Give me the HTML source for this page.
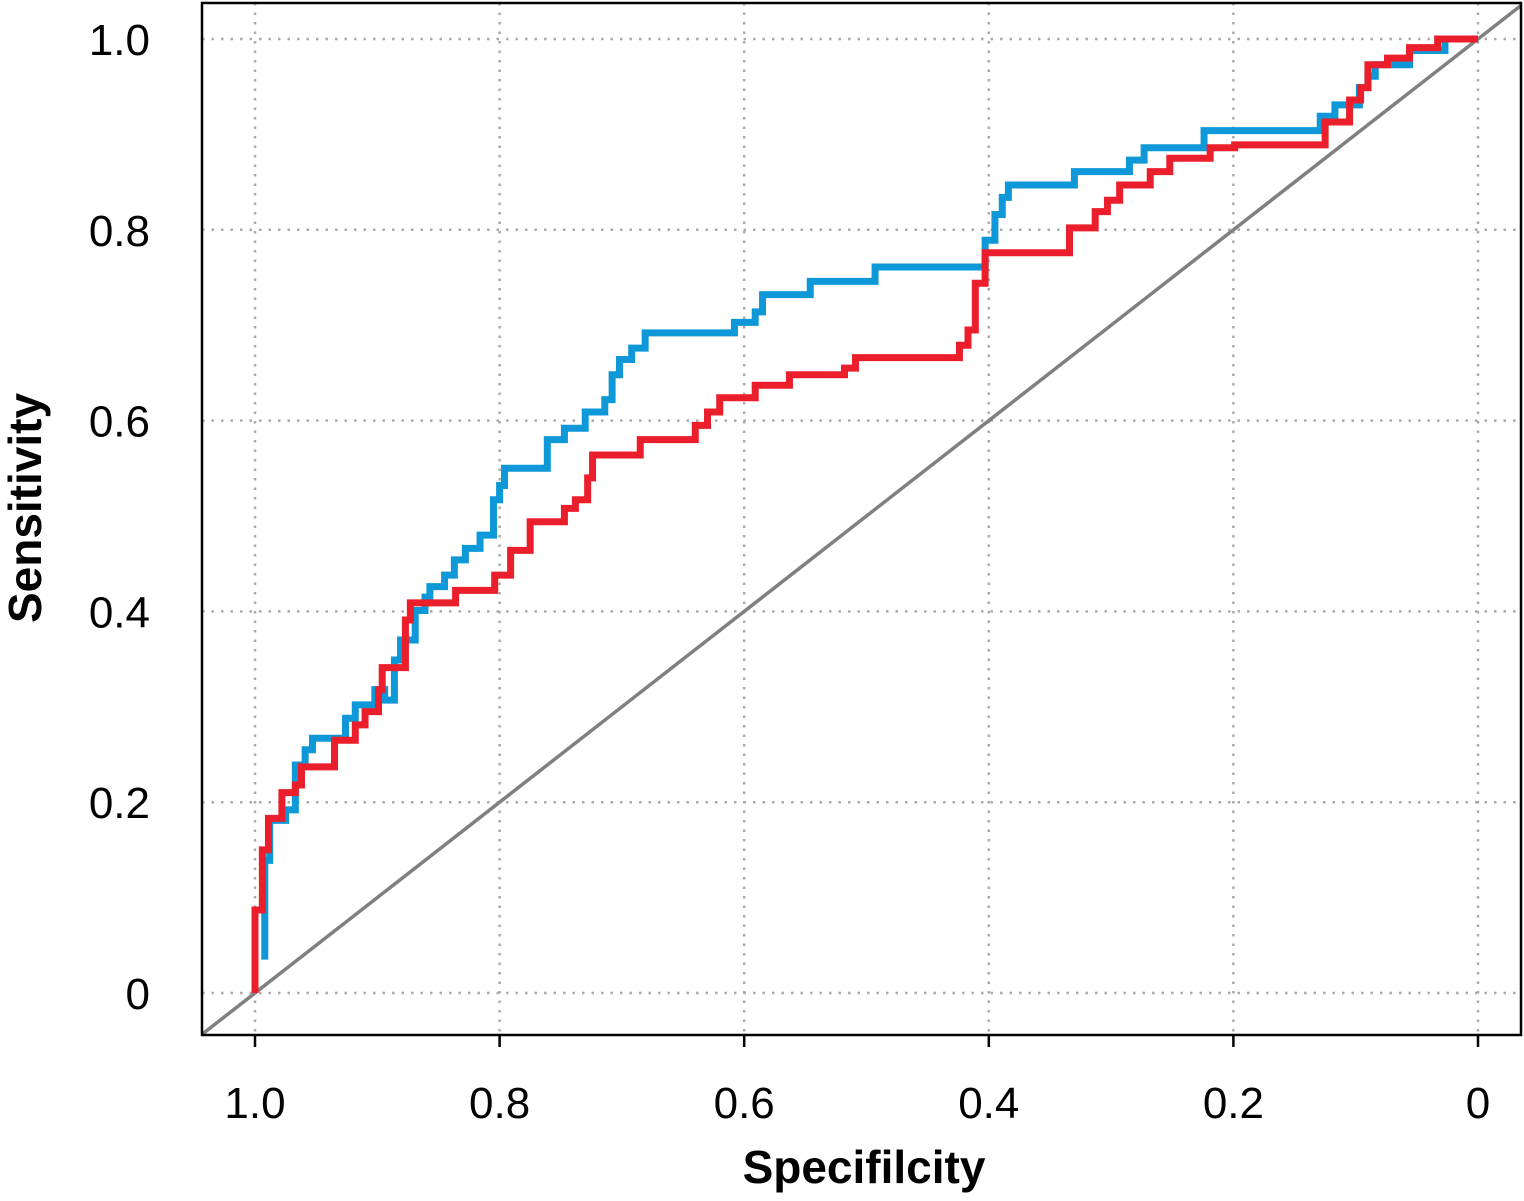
<!DOCTYPE html>
<html><head><meta charset="utf-8"><style>
html,body{margin:0;padding:0;background:#fff;}
svg text{font-family:"Liberation Sans",sans-serif;}
</style></head><body>
<svg id="chart" width="1524" height="1196" viewBox="0 0 1524 1196" xmlns="http://www.w3.org/2000/svg">
<g id="grid"></g>
<g id="diag"></g>
<g id="series"></g>
<rect x="202" y="3" width="1319" height="1032" fill="none" stroke="#000" stroke-width="2.5"/>
<g id="axes"></g>
<text x="864" y="1183" text-anchor="middle" font-size="46" font-weight="bold">Specifilcity</text>
<text transform="translate(41,508) rotate(-90)" text-anchor="middle" font-size="46" font-weight="bold">Sensitivity</text>
</svg>
<script>
const xTicks=[1.0,0.8,0.6,0.4,0.2,0];
const xTickLabels=["1.0","0.8","0.6","0.4","0.2","0"];
const yTicks=[0,0.2,0.4,0.6,0.8,1.0];
const yTickLabels=["0","0.2","0.4","0.6","0.8","1.0"];
const blueStart=[0.992,0.035];
const blueSpec=[.992,.988,.975,.967,.959,.953,.926,.918,.902,.894,.886,.881,.869,.861,.857,.845,.837,.828,.816,.805,.800,.796,.761,.747,.730,.714,.708,.702,.692,.681,.608,.591,.585,.546,.493,.403,.395,.389,.384,.330,.285,.273,.224,.129,.117,.097,.090,.084,.056,.027,0];
const blueSens=[.139,.181,.192,.239,.255,.267,.288,.302,.318,.307,.349,.370,.401,.415,.426,.438,.454,.466,.480,.517,.532,.550,.580,.592,.609,.622,.648,.664,.676,.692,.703,.714,.732,.746,.761,.789,.816,.834,.847,.861,.873,.886,.904,.919,.931,.949,.961,.973,.988,1.0,1.0];
const redStart=[1.0,0.0];
const redSpec=[1.0,.994,.989,.978,.967,.962,.935,.918,.910,.899,.896,.877,.873,.836,.804,.791,.775,.747,.738,.728,.724,.685,.640,.630,.620,.591,.563,.518,.509,.424,.417,.411,.403,.334,.313,.303,.293,.268,.252,.219,.199,.125,.105,.096,.090,.074,.056,.033,0];
const redSens=[.087,.150,.183,.210,.218,.237,.265,.281,.295,.318,.341,.391,.409,.422,.438,.464,.494,.508,.517,.540,.564,.580,.595,.609,.624,.637,.648,.655,.666,.679,.695,.744,.776,.802,.819,.831,.847,.861,.875,.886,.889,.913,.936,.949,.973,.980,.991,1.0,1.0];

const NS="http://www.w3.org/2000/svg";
const X=v=>255+(1-v)*1223;
const Y=v=>993-v*954;
function mk(tag,attrs,parent){const e=document.createElementNS(NS,tag);for(const k in attrs)e.setAttribute(k,attrs[k]);parent.appendChild(e);return e;}
const grid=document.getElementById('grid'),axes=document.getElementById('axes'),series=document.getElementById('series'),diag=document.getElementById('diag');
xTicks.forEach((t,i)=>{
  const g=mk('line',{x1:X(t),x2:X(t),y1:3,y2:1035,stroke:'#aaa','stroke-width':2.5,'stroke-dasharray':'2.5 7'},grid);
  
  
  const tk=mk('line',{x1:X(t),x2:X(t),y1:1035,y2:1047,stroke:'#000','stroke-width':2.5},axes);
  
  
  const tx=mk('text',{x:X(t),y:1118,'text-anchor':'middle','font-size':44},axes);
  tx.textContent=xTickLabels[i];
  
  
});
yTicks.forEach((t,i)=>{
  const g=mk('line',{x1:202,x2:1521,y1:Y(t),y2:Y(t),stroke:'#aaa','stroke-width':2.5,'stroke-dasharray':'2.5 7'},grid);
  
  
  const tx=mk('text',{x:150,y:Y(t)+16,'text-anchor':'end','font-size':44},axes);
  tx.textContent=yTickLabels[i];
  
  
});
const dl=mk('line',{x1:X(1.043),y1:Y(-0.043),x2:X(-0.035),y2:Y(1.035),stroke:'#808080','stroke-width':3.5},diag);


function stepPath(start,spec,sens){
  let d='M'+X(start[0])+' '+Y(start[1]);let px=start[0];let py=start[1];
  for(let i=0;i<spec.length;i++){d+=' L'+X(spec[i])+' '+Y(py)+' L'+X(spec[i])+' '+Y(sens[i]);py=sens[i];}
  return d;
}
const bp=mk('path',{d:stepPath(blueStart,blueSpec,blueSens),fill:'none',stroke:'#0f98d8','stroke-width':7,'stroke-linejoin':'miter'},series);


const rp=mk('path',{d:stepPath(redStart,redSpec,redSens),fill:'none',stroke:'#ea1f2b','stroke-width':7,'stroke-linejoin':'miter'},series);


</script>
</body></html>
